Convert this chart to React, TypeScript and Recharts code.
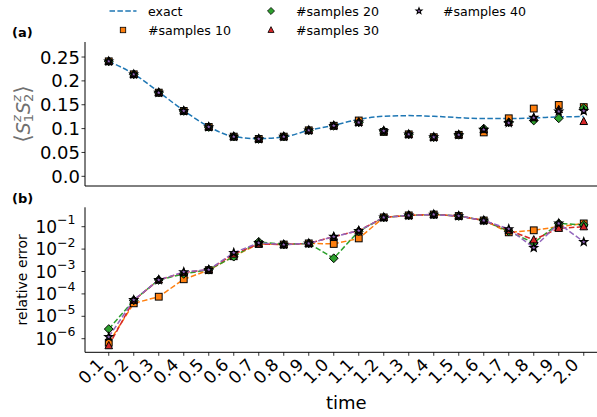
import React from 'react';
import { ComposedChart, Line, XAxis, YAxis, Legend, Label } from 'recharts';

// Time grid shared by both panels
const times = [0.1, 0.2, 0.3, 0.4, 0.5, 0.6, 0.7, 0.8, 0.9, 1.0, 1.1, 1.2, 1.3, 1.4, 1.5, 1.6, 1.7, 1.8, 1.9, 2.0];

// Panel (a): <S1z S2z> correlator
const exactCorr = [0.241, 0.2145, 0.1768, 0.1377, 0.1041, 0.0832, 0.079, 0.0824, 0.0964, 0.1069, 0.1195, 0.1258, 0.1272, 0.1258, 0.123, 0.121, 0.121, 0.1223, 0.1244, 0.1252];
const corrSamples10 = [0.241, 0.2138, 0.1754, 0.137, 0.1034, 0.0832, 0.0783, 0.0832, 0.0964, 0.106, 0.117, 0.093, 0.088, 0.082, 0.087, 0.092, 0.1216, 0.142, 0.1495, 0.145];
const corrSamples20 = [0.241, 0.2138, 0.1754, 0.137, 0.1034, 0.0832, 0.0783, 0.0832, 0.0964, 0.106, 0.113, 0.095, 0.088, 0.082, 0.087, 0.1, 0.113, 0.117, 0.1216, 0.143];
const corrSamples30 = [0.241, 0.2138, 0.1754, 0.137, 0.1034, 0.0832, 0.0783, 0.0832, 0.0964, 0.106, 0.113, 0.095, 0.088, 0.082, 0.087, 0.098, 0.113, 0.123, 0.14, 0.115];
const corrSamples40 = [0.241, 0.2138, 0.1754, 0.137, 0.1034, 0.0832, 0.0783, 0.0832, 0.0964, 0.106, 0.113, 0.095, 0.088, 0.082, 0.087, 0.098, 0.112, 0.123, 0.136, 0.137];

// Panel (b): relative error of each sample count
const errSamples10 = [6.6e-7, 3.8e-5, 7.5e-5, 4.5e-4, 1.15e-3, 4.8e-3, 1.7e-2, 1.6e-2, 1.8e-2, 1.7e-2, 3.0e-2, 0.26, 0.32, 0.35, 0.3, 0.19, 0.056, 0.069, 0.1, 0.14];
const errSamples20 = [2.7e-6, 5.2e-5, 4.2e-4, 7.8e-4, 1.2e-3, 4.6e-3, 2.1e-2, 1.6e-2, 1.8e-2, 3.9e-3, 6.3e-2, 0.26, 0.32, 0.35, 0.3, 0.19, 0.062, 0.019, 0.14, 0.12];
const errSamples30 = [4.9e-7, 5.2e-5, 4.2e-4, 9.0e-4, 1.2e-3, 6.0e-3, 1.7e-2, 1.6e-2, 1.8e-2, 3.6e-2, 6.6e-2, 0.26, 0.32, 0.35, 0.3, 0.19, 0.07, 0.026, 0.085, 0.1];
const errSamples40 = [1.2e-6, 5.4e-5, 4.2e-4, 9.5e-4, 1.2e-3, 6.9e-3, 1.9e-2, 1.6e-2, 1.8e-2, 3.6e-2, 6.6e-2, 0.26, 0.32, 0.35, 0.3, 0.19, 0.079, 0.0115, 0.14, 0.021];

// Tick values and labels
const corrTicks = [0, 0.05, 0.1, 0.15, 0.2, 0.25];
const corrTickLabels = ['0.0', '0.05', '0.1', '0.15', '0.2', '0.25'];
const errTicks = [1e-6, 1e-5, 1e-4, 1e-3, 1e-2, 1e-1];
const errTickExponents = ['\u22126', '\u22125', '\u22124', '\u22123', '\u22122', '\u22121'];
const timeTickLabels = ['0.1', '0.2', '0.3', '0.4', '0.5', '0.6', '0.7', '0.8', '0.9', '1.0', '1.1', '1.2', '1.3', '1.4', '1.5', '1.6', '1.7', '1.8', '1.9', '2.0'];

const legendNames = ['exact', '#samples 10', '#samples 20', '#samples 30', '#samples 40'];

const FONT = '"DejaVu Sans", Verdana, sans-serif';
const COLORS = {
  blue: '#1f77b4',
  orange: '#ff7f0e',
  green: '#2ca02c',
  red: '#d62728',
  purple: '#9467bd',
};

const X_DOMAIN: [number, number] = [0.005, 2.095];
const CORR_DOMAIN: [number, number] = [-0.0203, 0.2815];
const ERR_DOMAIN: [number, number] = [Math.pow(10, -6.607), Math.pow(10, -0.134)];

const rowsA = times.map((t, i) => ({
  t,
  exact: exactCorr[i],
  s10: corrSamples10[i],
  s20: corrSamples20[i],
  s30: corrSamples30[i],
  s40: corrSamples40[i],
}));

const rowsB = times.map((t, i) => ({
  t,
  s10: errSamples10[i],
  s20: errSamples20[i],
  s30: errSamples30[i],
  s40: errSamples40[i],
}));

// ---- marker shapes ----
type MarkerProps = { cx: number; cy: number };

const SquareMarker = ({ cx, cy }: MarkerProps) => (
  <rect x={cx - 3.4} y={cy - 3.4} width={6.8} height={6.8} fill={COLORS.orange} stroke="#000" strokeWidth={1} />
);

const DiamondMarker = ({ cx, cy }: MarkerProps) => (
  <path
    d={`M${cx},${cy - 4.4}L${cx + 4.4},${cy}L${cx},${cy + 4.4}L${cx - 4.4},${cy}Z`}
    fill={COLORS.green}
    stroke="#000"
    strokeWidth={1}
  />
);

const TriangleMarker = ({ cx, cy }: MarkerProps) => (
  <path
    d={`M${cx},${cy - 4.2}L${cx + 3.8},${cy + 3.1}L${cx - 3.8},${cy + 3.1}Z`}
    fill={COLORS.red}
    stroke="#000"
    strokeWidth={1}
  />
);

const starPath = (cx: number, cy: number, r: number) => {
  const inner = r * 0.42;
  const pts: string[] = [];
  for (let k = 0; k < 10; k++) {
    const ang = -Math.PI / 2 + (k * Math.PI) / 5;
    const rad = k % 2 === 0 ? r : inner;
    pts.push(`${(cx + rad * Math.cos(ang)).toFixed(2)},${(cy + rad * Math.sin(ang)).toFixed(2)}`);
  }
  return `M${pts.join('L')}Z`;
};

const StarMarker = ({ cx, cy }: MarkerProps) => (
  <path d={starPath(cx, cy, 3.9)} fill={COLORS.purple} stroke="#000" strokeWidth={1.4} strokeLinejoin="miter" />
);

const dotRenderer = (Shape: (p: MarkerProps) => React.ReactElement, prefix: string) => (p: any) => {
  if (p.cx == null || p.cy == null || Number.isNaN(p.cx) || Number.isNaN(p.cy)) {
    return <g key={`${prefix}-${p.index}`} />;
  }
  return (
    <g key={`${prefix}-${p.index}`}>
      <Shape cx={p.cx} cy={p.cy} />
    </g>
  );
};

// ---- tick renderers ----
const CorrTick = (props: any) => {
  const { x, y, payload } = props;
  const idx = corrTicks.findIndex((v) => Math.abs(v - payload.value) < 1e-9);
  return (
    <text x={x + 0.5} y={y + 6.5} textAnchor="end" fontSize={18} fontFamily={FONT} fill="#000">
      {corrTickLabels[idx]}
    </text>
  );
};

const ErrTick = (props: any) => {
  const { x, y, payload } = props;
  const idx = errTicks.findIndex((v) => Math.abs(Math.log10(v) - Math.log10(payload.value)) < 1e-6);
  return (
    <text x={x - 4} y={y + 6} textAnchor="end" fontFamily={FONT} fill="#000">
      <tspan fontSize={17}>10</tspan>
      <tspan fontSize={12.5} dy={-8.5}>{errTickExponents[idx]}</tspan>
    </text>
  );
};

const TimeTick = (props: any) => {
  const { x, y, payload } = props;
  const idx = times.findIndex((v) => Math.abs(v - payload.value) < 1e-9);
  const ax = x - 4;
  const ay = y + 8;
  return (
    <text
      x={ax}
      y={ay}
      transform={`rotate(-45, ${ax}, ${ay})`}
      textAnchor="end"
      fontSize={17}
      fontFamily={FONT}
      fill="#000"
    >
      {timeTickLabels[idx]}
    </text>
  );
};

// ---- axis labels ----
const CorrAxisLabel = (props: any) => {
  const vb = props.viewBox || { x: 0, y: 0, width: 85, height: 144 };
  const cx = 24;
  const cy = vb.y + vb.height / 2;
  return (
    <text
      x={cx}
      y={cy}
      transform={`rotate(-90, ${cx}, ${cy})`}
      textAnchor="middle"
      dominantBaseline="middle"
      fontFamily={FONT}
      fill="#707070"
    >
      <tspan fontSize={22}>{'\u27E8'}</tspan>
      <tspan fontSize={19} fontStyle="italic">S</tspan>
      <tspan fontSize={13} fontStyle="italic" dy={-7.5}>z</tspan>
      <tspan fontSize={13} dx={-7} dy={12}>1</tspan>
      <tspan fontSize={19} fontStyle="italic" dy={-4.5}>S</tspan>
      <tspan fontSize={13} fontStyle="italic" dy={-7.5}>z</tspan>
      <tspan fontSize={13} dx={-7} dy={12}>2</tspan>
      <tspan fontSize={22} dy={-4.5}>{'\u27E9'}</tspan>
    </text>
  );
};

const ErrAxisLabel = (props: any) => {
  const vb = props.viewBox || { x: 0, y: 0, width: 85, height: 145 };
  const cx = 23;
  const cy = vb.y + vb.height / 2;
  return (
    <text
      x={cx}
      y={cy}
      transform={`rotate(-90, ${cx}, ${cy})`}
      textAnchor="middle"
      dominantBaseline="middle"
      fontSize={14}
      fontFamily={FONT}
      fill="#000"
    >
      relative error
    </text>
  );
};

const TimeAxisLabel = (props: any) => {
  const vb = props.viewBox || { x: 85, y: 162, width: 522, height: 60 };
  return (
    <text x={vb.x + vb.width / 2} y={vb.y + 56.5} textAnchor="middle" fontSize={18} fontFamily={FONT} fill="#000">
      time
    </text>
  );
};

// ---- legend ----
const legendMarkers = [null, SquareMarker, DiamondMarker, TriangleMarker, StarMarker];
const legendCols = [
  { marker: 123, text: 148 },
  { marker: 271, text: 296 },
  { marker: 419, text: 443 },
];
const legendRows = [11, 30];

const LegendContent = () => (
  <svg width={597} height={42} style={{ display: 'block' }}>
    {legendNames.map((name, i) => {
      const col = legendCols[Math.floor(i / 2)];
      const rowY = legendRows[i % 2];
      const Marker = legendMarkers[i];
      return (
        <g key={name}>
          {Marker ? (
            <g transform={`translate(${col.marker},${rowY}) scale(0.8)`}>
              <Marker cx={0} cy={0} />
            </g>
          ) : (
            <line
              x1={col.marker - 13.5}
              x2={col.marker + 13.5}
              y1={rowY}
              y2={rowY}
              stroke={COLORS.blue}
              strokeWidth={1.5}
              strokeDasharray="5.5 2.4"
            />
          )}
          <text x={col.text} y={rowY + 4.6} fontSize={12.6} fontFamily={FONT} fill="#000">
            {name}
          </text>
        </g>
      );
    })}
  </svg>
);

const DASH = '5.5 2.4';

export default function App() {
  return (
    <div
      style={{
        position: 'fixed',
        left: 0,
        top: 0,
        width: 597,
        height: 417,
        overflow: 'hidden',
        background: '#fff',
        fontFamily: FONT,
      }}
    >
      <span style={{ position: 'absolute', left: 12, top: 25, fontSize: 13, fontWeight: 'bold', lineHeight: '15px' }}>(a)</span>
      <span style={{ position: 'absolute', left: 12, top: 191, fontSize: 13, fontWeight: 'bold', lineHeight: '15px' }}>(b)</span>

      {/* Panel (a): correlator vs time */}
      <div style={{ position: 'absolute', left: 0, top: 0 }}>
        <ComposedChart width={620} height={200} data={rowsA} margin={{ top: 42, right: 12.5, bottom: 4, left: 0 }}>
          <XAxis
            dataKey="t"
            type="number"
            domain={X_DOMAIN}
            ticks={times}
            tick={false}
            tickSize={3.5}
            tickLine={{ stroke: '#000', strokeWidth: 0.8 }}
            axisLine={{ stroke: '#000', strokeWidth: 1 }}
            height={10}
            allowDataOverflow
          />
          <XAxis
            xAxisId="top"
            orientation="top"
            dataKey="t"
            type="number"
            domain={X_DOMAIN}
            height={0}
            tick={false}
            tickLine={false}
            axisLine={{ stroke: '#6b6b6b', strokeWidth: 1.6 }}
            allowDataOverflow
          />
          <YAxis
            type="number"
            domain={CORR_DOMAIN}
            ticks={corrTicks}
            width={85}
            tickSize={3.5}
            tick={CorrTick}
            tickLine={{ stroke: '#000', strokeWidth: 0.8 }}
            axisLine={{ stroke: '#000', strokeWidth: 1 }}
            allowDataOverflow
          >
            <Label content={CorrAxisLabel} />
          </YAxis>
          <Legend
            verticalAlign="middle"
            align="center"
            layout="horizontal"
            content={LegendContent}
            wrapperStyle={{ position: 'absolute', top: 0, left: 0, width: 597, height: 42 }}
          />
          <Line
            dataKey="exact"
            type="monotone"
            stroke={COLORS.blue}
            strokeWidth={1.5}
            strokeDasharray={DASH}
            dot={false}
            activeDot={false}
            isAnimationActive={false}
          />
          <Line dataKey="s10" stroke="none" dot={dotRenderer(SquareMarker, 'a10')} activeDot={false} isAnimationActive={false} />
          <Line dataKey="s20" stroke="none" dot={dotRenderer(DiamondMarker, 'a20')} activeDot={false} isAnimationActive={false} />
          <Line dataKey="s30" stroke="none" dot={dotRenderer(TriangleMarker, 'a30')} activeDot={false} isAnimationActive={false} />
          <Line dataKey="s40" stroke="none" dot={dotRenderer(StarMarker, 'a40')} activeDot={false} isAnimationActive={false} />
        </ComposedChart>
      </div>

      {/* Panel (b): relative error vs time, log scale */}
      <div style={{ position: 'absolute', left: 0, top: 190 }}>
        <ComposedChart width={620} height={227} data={rowsB} margin={{ top: 17.3, right: 12.5, bottom: 4.7, left: 0 }}>
          <XAxis
            dataKey="t"
            type="number"
            domain={X_DOMAIN}
            ticks={times}
            tick={TimeTick}
            tickSize={3.5}
            tickLine={{ stroke: '#000', strokeWidth: 0.8 }}
            axisLine={{ stroke: '#000', strokeWidth: 1 }}
            height={60}
            interval={0}
            allowDataOverflow
          >
            <Label content={TimeAxisLabel} />
          </XAxis>
          <XAxis
            xAxisId="top"
            orientation="top"
            dataKey="t"
            type="number"
            domain={X_DOMAIN}
            height={0}
            tick={false}
            tickLine={false}
            axisLine={{ stroke: '#6b6b6b', strokeWidth: 1.6 }}
            allowDataOverflow
          />
          <YAxis
            type="number"
            scale="log"
            domain={ERR_DOMAIN}
            ticks={errTicks}
            width={85}
            tickSize={3.5}
            tick={ErrTick}
            tickLine={{ stroke: '#000', strokeWidth: 0.8 }}
            axisLine={{ stroke: '#000', strokeWidth: 1 }}
            interval={0}
            allowDataOverflow
          >
            <Label content={ErrAxisLabel} />
          </YAxis>
          <Line dataKey="s10" stroke={COLORS.orange} strokeWidth={1.5} strokeDasharray={DASH} dot={dotRenderer(SquareMarker, 'b10')} activeDot={false} isAnimationActive={false} />
          <Line dataKey="s20" stroke={COLORS.green} strokeWidth={1.5} strokeDasharray={DASH} dot={dotRenderer(DiamondMarker, 'b20')} activeDot={false} isAnimationActive={false} />
          <Line dataKey="s30" stroke={COLORS.red} strokeWidth={1.5} strokeDasharray={DASH} dot={dotRenderer(TriangleMarker, 'b30')} activeDot={false} isAnimationActive={false} />
          <Line dataKey="s40" stroke={COLORS.purple} strokeWidth={1.5} strokeDasharray={DASH} dot={dotRenderer(StarMarker, 'b40')} activeDot={false} isAnimationActive={false} />
        </ComposedChart>
      </div>
    </div>
  );
}
